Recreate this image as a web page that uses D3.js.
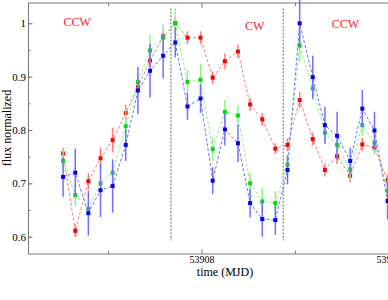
<!DOCTYPE html>
<html>
<head>
<meta charset="utf-8">
<script src="https://cdn.jsdelivr.net/npm/d3@7"></script>
<style>
  body { margin: 0; background: #fff; }
  svg { display: block; }
  text { font-family: "Liberation Serif", "DejaVu Serif", serif; }
</style>
</head>
<body>
<div id="chart"></div>
<script>
// observation times (MJD)
var times = [53906.52, 53906.65, 53906.79, 53906.92, 53907.05, 53907.19, 53907.32, 53907.45, 53907.59,
             53907.72, 53907.85, 53907.99, 53908.12, 53908.25, 53908.39, 53908.52, 53908.65, 53908.79,
             53908.92, 53909.05, 53909.19, 53909.32, 53909.45, 53909.59, 53909.72, 53909.85, 53909.99];

var redFlux = [0.756, 0.611, 0.704, 0.747, 0.781, 0.832, 0.881, 0.930, 0.975, 1.000, 0.973, 0.973, 0.898, 0.929,
               0.947, 0.848, 0.820, 0.765, 0.772, 0.856, 0.783, 0.725, 0.751, 0.714, 0.773, 0.767, 0.705];
var redErr = [0.010, 0.012, 0.015, 0.020, 0.023, 0.015, 0.012, 0.012, 0.012, 0.012, 0.012, 0.012, 0.012, 0.015,
              0.013, 0.012, 0.012, 0.010, 0.012, 0.015, 0.012, 0.012, 0.015, 0.012, 0.012, 0.012, 0.012];

var greenFlux = [0.742, 0.678, 0.652, 0.700, 0.720, 0.807, 0.890, 0.949, 0.973, 1.000, 0.890, 0.894, 0.764, 0.834,
                 0.827, 0.700, 0.666, 0.663, 0.735, 0.958, 0.878, 0.795, 0.772, 0.726, 0.809, 0.776, 0.686];
var greenErr = [0.020, 0.020, 0.015, 0.012, 0.015, 0.030, 0.015, 0.030, 0.025, 0.028, 0.023, 0.030, 0.022, 0.022,
                0.020, 0.020, 0.025, 0.023, 0.020, 0.030, 0.022, 0.020, 0.020, 0.020, 0.020, 0.020, 0.020];

var blueFlux = [0.712, 0.720, 0.644, 0.687, 0.695, 0.772, 0.874, 0.911, 0.939, 0.964, 0.844, 0.859, 0.705, 0.801,
                0.775, 0.663, 0.633, 0.631, 0.725, 1.000, 0.899, 0.809, 0.789, 0.742, 0.840, 0.799, 0.667];
var blueErr = [0.037, 0.045, 0.042, 0.050, 0.050, 0.030, 0.044, 0.050, 0.042, 0.028, 0.025, 0.027, 0.025, 0.030,
               0.035, 0.027, 0.033, 0.028, 0.027, 0.045, 0.040, 0.035, 0.045, 0.025, 0.035, 0.035, 0.035];

// rotation switch times and labels
var switchTimes = [53907.673, 53908.875];
var phaseLabels = ["CCW", "CW", "CCW"];
var phaseX = [53906.67, 53908.57, 53909.54];
var phaseY = [0.995, 0.987, 0.991];

var xMajor = [53908, 53910];
var xMinor = [53907, 53909];
var yMajor = [0.6, 0.7, 0.8, 0.9, 1.0];
var yMinor = [0.6, 0.65, 0.7, 0.75, 0.8, 0.85, 0.9, 0.95, 1.0];

var width = 388,
    height = 300;
var padL = 28.5, padT = 3, padR = 388.5, padB = 254;

var x = d3.scaleLinear().domain([53906.15, 53910]).range([padL, padR]);
var y = d3.scaleLinear().domain([0.5675, 1.038]).range([padB, padT]);

var svg = d3.select("#chart").append("svg")
    .attr("width", width)
    .attr("height", height);

// frame
svg.append("rect")
    .attr("x", padL).attr("y", padT)
    .attr("width", padR - padL + 20).attr("height", padB - padT)
    .attr("fill", "none")
    .attr("stroke", "#777")
    .attr("stroke-width", 1);

function styleAxis(g) {
  g.select(".domain").remove();
  g.selectAll(".tick line").attr("stroke", "#777");
  g.selectAll(".tick text").attr("fill", "#000")
    .style("font-family", "'Liberation Serif', serif");
}

svg.append("g").attr("transform", "translate(0," + padB + ")")
    .call(d3.axisBottom(x).tickValues(xMajor).tickSizeInner(-5).tickPadding(1.5).tickFormat(d3.format("d")))
    .call(styleAxis)
    .selectAll("text").style("font-size", "10px");
svg.append("g").attr("transform", "translate(0," + padB + ")")
    .call(d3.axisBottom(x).tickValues(xMinor).tickSizeInner(-3).tickFormat(""))
    .call(styleAxis);
svg.append("g").attr("transform", "translate(0," + padT + ")")
    .call(d3.axisTop(x).tickValues(xMajor).tickSizeInner(-5).tickFormat(""))
    .call(styleAxis);
svg.append("g").attr("transform", "translate(0," + padT + ")")
    .call(d3.axisTop(x).tickValues(xMinor).tickSizeInner(-3).tickFormat(""))
    .call(styleAxis);
svg.append("g").attr("transform", "translate(" + padL + ",0)")
    .call(d3.axisLeft(y).tickValues(yMajor).tickSizeInner(-4).tickPadding(2.5).tickFormat(d3.format("")))
    .call(styleAxis)
    .selectAll("text").style("font-size", "11px");
svg.append("g").attr("transform", "translate(" + padL + ",0)")
    .call(d3.axisLeft(y).tickValues(yMinor).tickSizeInner(-2).tickFormat(""))
    .call(styleAxis);

// switch lines
svg.selectAll(".switch").data(switchTimes).enter().append("line")
    .attr("class", "switch")
    .attr("x1", function(d) { return x(d); })
    .attr("x2", function(d) { return x(d); })
    .attr("y1", y(1.028))
    .attr("y2", y(0.593))
    .attr("stroke", "#999")
    .attr("stroke-width", 1.5)
    .attr("stroke-dasharray", "2,1.5");

var series = [
  { flux: redFlux, err: redErr, color: "#ff0000", light: "#ff7a7a" },
  { flux: greenFlux, err: greenErr, color: "#00e000", light: "#8cf58c" },
  { flux: blueFlux, err: blueErr, color: "#0000ff", light: "#7070ff" }
];

series.forEach(function(s) {
  var pts = times.map(function(t, i) { return { t: t, v: s.flux[i], e: s.err[i] }; });
  var g = svg.append("g");

  g.selectAll(".err").data(pts).enter().append("line")
      .attr("x1", function(d) { return x(d.t); })
      .attr("x2", function(d) { return x(d.t); })
      .attr("y1", function(d) { return y(d.v - d.e); })
      .attr("y2", function(d) { return y(d.v + d.e); })
      .attr("stroke", s.light)
      .attr("stroke-width", 1.5);

  var line = d3.line()
      .x(function(d) { return x(d.t); })
      .y(function(d) { return y(d.v); });

  g.append("path")
      .datum(pts)
      .attr("d", line)
      .attr("fill", "none")
      .attr("stroke", s.light)
      .attr("stroke-width", 1)
      .attr("stroke-dasharray", "3,2");

  g.selectAll(".pt").data(pts).enter().append("rect")
      .attr("x", function(d) { return x(d.t) - 2; })
      .attr("y", function(d) { return y(d.v) - 2; })
      .attr("width", 4)
      .attr("height", 4)
      .attr("fill", s.color);
});

// phase labels
svg.selectAll(".phase").data(phaseLabels).enter().append("text")
    .attr("x", function(d, i) { return x(phaseX[i]); })
    .attr("y", function(d, i) { return y(phaseY[i]); })
    .attr("text-anchor", "middle")
    .attr("fill", "#ff2020")
    .style("font-size", "12px")
    .text(function(d) { return d; });

// axis titles
svg.append("text")
    .attr("x", 225).attr("y", 276)
    .attr("text-anchor", "middle")
    .style("font-size", "12px")
    .text("time (MJD)");

svg.append("text")
    .attr("transform", "translate(10.5,128) rotate(-90)")
    .attr("text-anchor", "middle")
    .style("font-size", "12px")
    .text("flux normalized");
</script>
</body>
</html>
